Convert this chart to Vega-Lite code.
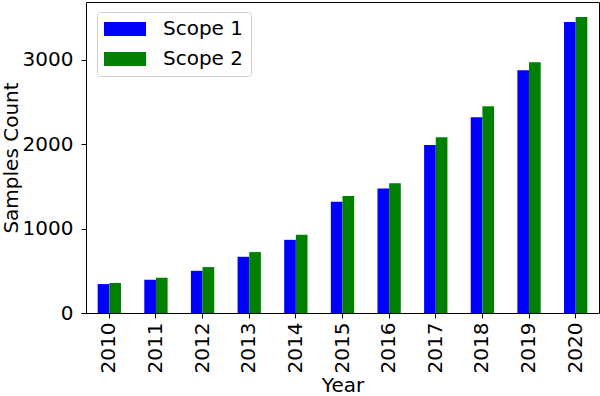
{
  "$schema": "https://vega.github.io/schema/vega-lite/v6.json",
  "width": 513,
  "height": 311,
  "autosize": "none",
  "padding": {"left": 86, "top": 2, "right": 1, "bottom": 83},
  "background": "white",
  "config": {
    "font": "DejaVu Sans",
    "view": {"stroke": "black", "strokeWidth": 1},
    "axis": {
      "grid": false,
      "domain": false,
      "tickColor": "black",
      "tickSize": 5,
      "labelColor": "black",
      "labelFont": "DejaVu Sans",
      "labelFontSize": 20,
      "titleFont": "DejaVu Sans",
      "titleFontSize": 20,
      "titleFontWeight": "normal",
      "titleColor": "black"
    }
  },
  "data": {
    "values": [
      {"Year": "2010", "Scope": "Scope 1", "Count": 343},
      {"Year": "2010", "Scope": "Scope 2", "Count": 355},
      {"Year": "2011", "Scope": "Scope 1", "Count": 394},
      {"Year": "2011", "Scope": "Scope 2", "Count": 418},
      {"Year": "2012", "Scope": "Scope 1", "Count": 500},
      {"Year": "2012", "Scope": "Scope 2", "Count": 544},
      {"Year": "2013", "Scope": "Scope 1", "Count": 666},
      {"Year": "2013", "Scope": "Scope 2", "Count": 722},
      {"Year": "2014", "Scope": "Scope 1", "Count": 867},
      {"Year": "2014", "Scope": "Scope 2", "Count": 927},
      {"Year": "2015", "Scope": "Scope 1", "Count": 1317},
      {"Year": "2015", "Scope": "Scope 2", "Count": 1385},
      {"Year": "2016", "Scope": "Scope 1", "Count": 1475},
      {"Year": "2016", "Scope": "Scope 2", "Count": 1538},
      {"Year": "2017", "Scope": "Scope 1", "Count": 1992},
      {"Year": "2017", "Scope": "Scope 2", "Count": 2083},
      {"Year": "2018", "Scope": "Scope 1", "Count": 2320},
      {"Year": "2018", "Scope": "Scope 2", "Count": 2450},
      {"Year": "2019", "Scope": "Scope 1", "Count": 2876},
      {"Year": "2019", "Scope": "Scope 2", "Count": 2970},
      {"Year": "2020", "Scope": "Scope 1", "Count": 3447},
      {"Year": "2020", "Scope": "Scope 2", "Count": 3506}
    ]
  },
  "mark": {"type": "bar"},
  "encoding": {
    "x": {
      "field": "Year",
      "type": "nominal",
      "scale": {"paddingInner": 0.5, "paddingOuter": 0.25},
      "axis": {"title": "Year", "labelAngle": -90, "labelPadding": 4, "titlePadding": 3}
    },
    "xOffset": {
      "field": "Scope",
      "type": "nominal",
      "scale": {"paddingInner": 0, "paddingOuter": 0}
    },
    "y": {
      "field": "Count",
      "type": "quantitative",
      "scale": {"domain": [0, 3685], "nice": false},
      "axis": {"title": "Samples Count", "values": [0, 1000, 2000, 3000], "format": "d", "labelPadding": 8, "titlePadding": 1}
    },
    "color": {
      "field": "Scope",
      "type": "nominal",
      "scale": {"domain": ["Scope 1", "Scope 2"], "range": ["#0000ff", "#008000"]},
      "legend": {
        "title": null,
        "orient": "none",
        "legendX": 11,
        "legendY": 10,
        "padding": 7,
        "strokeColor": "#d0d0d0",
        "fillColor": "white",
        "cornerRadius": 3,
        "symbolType": "M-1,-0.7H3.2V0.7H-1Z",
        "symbolSize": 400,
        "symbolStrokeWidth": 0,
        "symbolOpacity": 1,
        "labelFont": "DejaVu Sans",
        "labelFontSize": 20,
        "labelColor": "black",
        "labelOffset": 39,
        "rowPadding": 10
      }
    }
  }
}
